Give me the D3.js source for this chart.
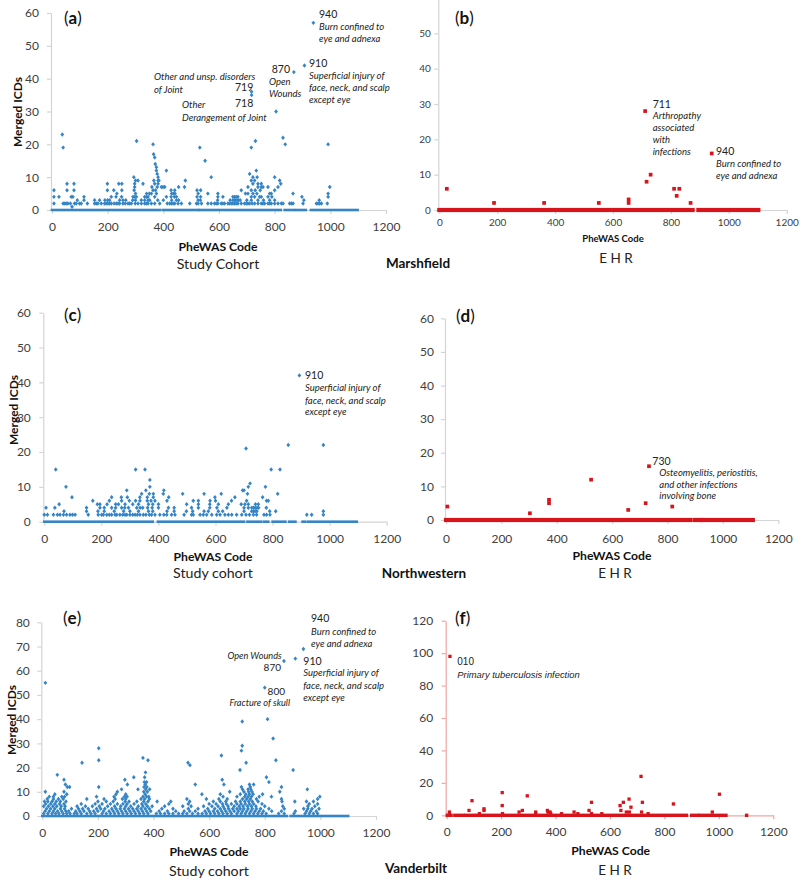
<!DOCTYPE html>
<html><head><meta charset="utf-8">
<script src="https://cdn.jsdelivr.net/npm/d3@7"></script>
<style>body{margin:0;background:#fff}svg{display:block}</style>
</head><body>
<svg id="c" width="800" height="879"></svg>
<script>
// ================= DATA =================
const xTicks = [0, 200, 400, 600, 800, 1000, 1200];
const yTicks60 = [0, 10, 20, 30, 40, 50, 60];
const yTicksB = [0, 10, 20, 30, 40, 50];
const yTicks80 = [0, 10, 20, 30, 40, 50, 60, 70, 80];
const yTicks120 = [0, 20, 40, 60, 80, 100, 120];

// Study cohort rows: [merged ICDs value, PheWAS codes having that value]
const studyA = [
 [1,[72]],
 [2,[7,40,46,51,57,66,81,87,99,105,127,153,159,165,177,189,195,201,207,213,223,231,237,243,255,263,273,279,285,299,309,321,333,339,345,357,369,387,414,423,429,435,441,453,465,495,519,525,537,560,572,584,590,596,608,614,620,632,638,644,650,656,662,668,680,692,698,704,710,719,728,740,752,758,764,776,782,788,800,812,824,830,854,860,866,902,950,956,962,968,989]],
 [3,[91,115,153,171,190,200,207,243,255,265,290,300,321,333,345,351,380,400,430,447,455,525,533,595,640,650,655,660,665,670,676,700,716,740,760,782,800,905,960]],
 [4,[7,25,69,75,115,213,230,250,291,297,303,333,339,345,369,411,428,440,447,521,534,596,614,650,656,662,668,716,728,746,752,776,790,898,992]],
 [5,[233,300,340,350,357,375,430,436,442,525,560,596,695,704,722,736,782,788,866,992]],
 [6,[7,54,79,199,222,251,295,363,372,428,441,521,534,680,716,730,748,800]],
 [7,[297,359,378,393,399,405,455,476,704,740,752,758,776,812,998]],
 [8,[54,79,199,240,251,297,327,369,381,722,740,752,822]],
 [9,[300,309,366,381,384,479,716,728,818]],
 [10,[294,381,572,722,737,800]],
 [11,[378,710]],[12,[375,411,734]],[13,[375]],[14,[371]],[15,[550]],[16,[369]],[17,[365]],
 [19,[40,531,716]],[20,[363,838,992]],[21,[304,731]],[22,[830]],[23,[37]],
 [30,[805]],[35,[717]],[36,[717]],[42,[869]],[44,[907]],[57,[939]]
];
const zeroA = [[0,388],[398,525],[530,822],[836,872],[880,912],[930,1098]];

const studyC = [
 [2,[0,11,32,46,55,67,78,90,99,108,154,189,201,207,219,228,236,248,254,265,275,283,289,300,310,318,326,335,347,356,368,376,388,405,419,429,446,458,490,516,522,546,557,569,587,604,616,633,645,657,674,692,707,719,733,744,770,779,791,920,937,978]],
 [3,[69,148,188,210,245,278,300,330,365,380,430,455,498,520,560,575,610,625,700,727,733,739,745,790,811,978]],
 [4,[6,37,148,195,210,236,250,271,282,295,324,336,345,362,378,400,435,455,516,540,580,605,640,700,715,727,733,739,745,751,778]],
 [5,[52,186,195,220,250,260,283,310,330,365,380,400,499,540,580,610,645,690,703,715,740,750]],
 [6,[170,228,271,298,320,335,361,374,388,430,522,540,581,600,656,709,779,785]],
 [7,[97,236,270,291,335,361,382,436,598,668,765]],
 [8,[341,368,382,417,485,560,620,712,818]],
 [9,[289,356,419,695,700]],
 [10,[76,370,715,775]],
 [11,[721]],[12,[370]],[15,[40,320,353,795,826]],[21,[707]],[22,[855,978]],[42,[894]]
];
const zeroC = [[0,380],[398,700],[712,760],[770,785],[800,845],[858,880],[905,915],[925,1095]];

const studyE = [
 [1,[5,20,35,48,60,75,88,100,115,125,140,160,175,190,215,230,245,260,275,290,305,320,335,350,365,380,410,425,440,455,470,490,505,520,540,560,575,590,605,620,635,650,665,680,700,715,730,745,760,775,790,805,850,870,905,945,960,975,990]],
 [2,[10,25,40,55,70,85,95,120,135,150,170,185,200,220,240,255,270,285,300,315,330,345,360,375,390,420,450,480,510,530,550,585,600,615,630,645,660,675,690,705,720,735,750,765,780,795,825,860,910,950,965,985]],
 [3,[15,30,45,65,80,105,130,145,165,195,210,225,250,265,280,295,310,325,340,355,370,385,430,470,525,560,595,620,640,655,670,685,700,712,725,740,755,770,785,815,870,940,955,970,995]],
 [4,[5,22,38,52,68,82,125,155,180,205,235,260,282,300,318,345,362,378,395,440,505,535,580,610,632,650,668,690,708,722,738,752,768,800,865,955,980]],
 [5,[12,30,45,62,78,140,190,215,245,270,290,305,330,358,372,455,525,600,625,648,662,680,700,715,730,745,760,790,960,990]],
 [6,[8,20,35,50,65,85,200,230,255,298,312,340,365,380,413,462,530,615,640,660,695,712,728,742,755,776,862,908,950,975]],
 [7,[18,40,58,75,160,222,262,288,300,355,368,385,520,590,635,665,720,735,748,770,860,990]],
 [8,[25,40,70,80,195,258,295,305,362,375,383,650,700,728,740,752,780,824,998]],
 [9,[45,88,265,300,370,574,640,712,732,745,758,792]],
 [10,[11,78,270,365,378,674,725,742,754,854]],
 [11,[285,344,372,386,720,740,750,953]],
 [12,[90,98,203,366,376,716,748,860]],
 [13,[83,306,370,550,653,745,760]],
 [14,[367,375,815]],[15,[78,297,647]],[16,[329,368,806]],
 [17,[54]],[18,[371]],[19,[711,902]],[21,[531]],[22,[143,524,733]],[23,[203,380,840]],[24,[362]],[25,[644]],
 [27,[716]],[28,[203]],[29,[719]],[32,[830]],[39,[719]],[40,[810]],[53,[800]],[55,[11]],[64,[869]],[65,[910]],[69,[939]]
];
const zeroE = [[0,462],[470,880],[893,932],[940,1100]];

// EHR points: [PheWAS code, merged ICDs]
const ehrB = [[26,6],[189,2],[362,2],[551,2],[654,3],[654,2],[711,28],[716,8],[730,10],[811,6],[829,6],[820,4],[868,2],[941,16]];
const zeroB = [[0,875],[895,915],[927,1102]];

const ehrD = [[5,4],[303,2],[372,6],[372,5],[524,12],[658,3],[721,5],[733,16],[817,4]];
const zeroD = [[0,881],[897,918],[927,1108]];

const ehrF = [[12,98],[10,2],[10,1],[82,3],[93,9],[120,1],[137,4],[137,3],[204,14],[204,6],[205,1],[266,2],[278,3],[296,12],
 [327,2],[327,1],[370,3],[372,2],[380,2],[382,1],[422,1],[468,2],[482,1],[523,3],[532,8],[532,1],[570,1],[637,6],[640,3],
 [649,8],[660,2],[670,10],[671,2],[677,5],[714,24],[719,8],[716,2],[740,1],[833,7],[976,2],[1002,13]];
const zeroF = [[2,16],[30,61],[71,100],[110,881],[900,922],[930,1026],[1102,1102]];

// ================= LAYOUT =================
const BLUE = "#3585c6", RED = "#d7141c";
const FONT = 'Lato, "DejaVu Sans", sans-serif';
const svg = d3.select("#c");
svg.append("rect").attr("width", 800).attr("height", 879).attr("fill", "#fff");

const panels = [
 {rows: studyA, zero: zeroA, kind: "study", x0: 52, x1: 386, yb: 210, yt: 13, ymax: 60, yticks: yTicks60, tf: 12, xpad: 8.5, ypad: 8, axis: "#d4d4d4"},
 {pts: ehrB, zero: zeroB, kind: "ehr", x0: 439.3, x1: 786.7, yb: 210, yt: -2, ymax: 60, yticks: yTicksB, tf: 10, xpad: 5, ypad: 3.5, axis: "#d4d4d4", ms: 3.7, bh: 4.2},
 {rows: studyC, zero: zeroC, kind: "study", x0: 44.3, x1: 386.7, yb: 521.7, yt: 312.7, ymax: 60, yticks: yTicks60, tf: 12, xpad: 8.5, ypad: 8.5, axis: "#d4d4d4"},
 {pts: ehrD, zero: zeroD, kind: "ehr", x0: 446, x1: 778.3, yb: 520, yt: 318.3, ymax: 60, yticks: yTicks60, tf: 12, xpad: 10.5, ypad: 7, axis: "#d4d4d4", ms: 3.7, bh: 4.2},
 {rows: studyE, zero: zeroE, kind: "study", x0: 42.3, x1: 376, yb: 816, yt: 622.3, ymax: 80, yticks: yTicks80, tf: 12, xpad: 8, ypad: 7.5, axis: "#d4d4d4"},
 {pts: ehrF, zero: zeroF, kind: "ehr", x0: 446.7, x1: 773.3, yb: 815.3, yt: 620.7, ymax: 120, yticks: yTicks120, tf: 12, xpad: 8.5, ypad: 8.5, axis: "#f2a3a3", ms: 3.3, bh: 3.4}
];

function drawPanel(p) {
  const x = d3.scaleLinear().domain([0, 1200]).range([p.x0, p.x1]);
  const y = d3.scaleLinear().domain([0, p.ymax]).range([p.yb, p.yt]);
  const g = svg.append("g");
  const ax = g.append("g").attr("transform", `translate(0,${p.yb})`)
    .call(d3.axisBottom(x).tickValues(xTicks).tickSize(4).tickSizeOuter(0).tickPadding(p.xpad).tickFormat(d3.format("d")));
  const ay = g.append("g").attr("transform", `translate(${p.x0 - 1},0)`)
    .call(d3.axisLeft(y).tickValues(p.yticks).tickSize(4).tickSizeOuter(0).tickPadding(p.ypad).tickFormat(d3.format("d")));
  [ax, ay].forEach(a => {
    a.select(".domain").attr("stroke", p.axis).attr("stroke-width", 1.2);
    a.selectAll(".tick line").attr("stroke", p.axis).attr("stroke-width", 1.2);
    a.selectAll(".tick text").attr("fill", "#404040").style("font-family", FONT).style("font-size", p.tf + "px");
  });
  const col = p.kind === "study" ? BLUE : RED;
  const bh = p.kind === "study" ? 2.6 : p.bh;
  // dense zero-value baseline (codes with 0 merged ICDs)
  g.append("g").selectAll("rect").data(p.zero).join("rect")
    .attr("x", d => x(d[0]) - bh / 2).attr("width", d => x(d[1]) - x(d[0]) + bh)
    .attr("y", y(0) - bh / 2).attr("height", bh).attr("fill", col);
  if (p.kind === "study") {
    const pts = p.rows.flatMap(([v, codes]) => codes.map(c => [c, v]));
    g.append("g").selectAll("path").data(pts).join("path")
      .attr("d", "M0,-2.2L1.9,0L0,2.2L-1.9,0Z")
      .attr("transform", d => `translate(${x(d[0])},${y(d[1])})`)
      .attr("fill", col);
  } else {
    g.append("g").selectAll("rect").data(p.pts).join("rect")
      .attr("x", d => x(d[0]) - p.ms / 2).attr("y", d => y(d[1]) - p.ms / 2)
      .attr("width", p.ms).attr("height", p.ms).attr("fill", col);
  }
}
panels.forEach(drawPanel);

function txt(t, x, y, o = {}) {
  const e = svg.append("text").attr("x", x).attr("y", y).attr("dominant-baseline", "central")
    .attr("text-anchor", o.anchor || "start").attr("fill", o.fill || "#222")
    .style("font-family", o.family || FONT).style("font-size", (o.size || 10) + "px")
    .style("font-weight", o.bold ? "bold" : "normal").style("font-style", o.it ? "italic" : "normal");
  if (o.rot) e.attr("transform", `rotate(-90,${x},${y})`);
  e.text(t);
  return e;
}

// panel letters
[["a", 64, 17], ["b", 455, 17], ["c", 64, 314], ["d", 456, 315], ["e", 63, 617], ["f", 455, 617]].forEach(([l, x, y]) => {
  const e = svg.append("text").attr("x", x).attr("y", y).attr("dominant-baseline", "central")
    .style("font-family", FONT).style("font-size", "17px").attr("fill", "#111");
  e.append("tspan").text("(");
  e.append("tspan").style("font-weight", "bold").text(l);
  e.append("tspan").text(")");
});

// axis titles
const xt = [[218, 246, 12.2], [613, 238, 9.5], [213, 556.7, 12.2], [612, 555.7, 12.2], [209, 851.7, 12.2], [610.7, 850.7, 12.2]];
xt.forEach(([x, y, s]) => txt("PheWAS Code", x, y, {anchor: "middle", bold: true, size: s, fill: "#111"}));
[[17, 112], [13, 410], [11.5, 720]].forEach(([x, y]) => txt("Merged ICDs", x, y, {anchor: "middle", bold: true, size: 12, rot: true, fill: "#111"}));
txt("Study Cohort", 218, 263, {anchor: "middle", size: 14.2, fill: "#222"});
txt("Study cohort", 213, 572.7, {anchor: "middle", size: 14.2, fill: "#222"});
txt("Study cohort", 209, 870, {anchor: "middle", size: 14.2, fill: "#222"});
txt("E H R", 616, 258, {anchor: "middle", size: 13.5, fill: "#222"});
txt("E H R", 615, 573, {anchor: "middle", size: 13.5, fill: "#222"});
txt("E H R", 615, 870, {anchor: "middle", size: 13.5, fill: "#222"});
txt("Marshfield", 418, 263, {anchor: "middle", bold: true, size: 13.5, fill: "#111"});
txt("Northwestern", 424, 573, {anchor: "middle", bold: true, size: 13.5, fill: "#111"});
txt("Vanderbilt", 416, 868, {anchor: "middle", bold: true, size: 13.5, fill: "#111"});

// annotations
const N = {size: 10.5}, I = {size: 9.5, it: true};
const ann = [
 ["940", 319, 14, N], ["Burn confined to", 319, 26, I], ["eye and adnexa", 319, 38, I],
 ["910", 309, 62.5, N], ["Superficial injury of", 309, 75, I], ["face, neck, and scalp", 309, 87, I], ["except eye", 309, 99, I],
 ["870", 290, 69, {size: 10.5, anchor: "end"}], ["Open", 269, 81, I], ["Wounds", 269, 93, I],
 ["Other and unsp. disorders", 154, 76, I], ["of Joint", 154, 89, I], ["719", 235, 87, N],
 ["Other", 182, 104, I], ["Derangement of Joint", 182, 117, I], ["718", 235, 103, N],
 ["711", 652.7, 104, N], ["Arthropathy", 652.7, 115.5, I], ["associated", 652.7, 127.5, I], ["with", 652.7, 139.5, I], ["infections", 652.7, 151.5, I],
 ["940", 716, 151, N], ["Burn confined to", 716, 163, I], ["eye and adnexa", 716, 175, I],
 ["910", 305, 375, N], ["Superficial injury of", 305, 387.7, I], ["face, neck, and scalp", 305, 400, I], ["except eye", 305, 411.7, I],
 ["730", 652.3, 461, N], ["Osteomyelitis, periostitis,", 659.3, 472.7, I], ["and other  infections", 659.3, 484, I], ["involving bone", 659.3, 495.5, I],
 ["940", 311, 618.3, N], ["Burn confined to", 311, 631.7, I], ["eye and adnexa", 311, 643.3, I],
 ["Open Wounds", 281.7, 655.8, {size: 9.2, it: true, anchor: "end"}], ["870", 281, 667.2, {size: 10, anchor: "end"}],
 ["910", 303.3, 660.7, N], ["Superficial injury of", 303.3, 672.7, I], ["face, neck, and scalp", 303.3, 685.3, I], ["except eye", 303.3, 697.3, I],
 ["800", 285, 691.2, {size: 10, anchor: "end"}], ["Fracture of skull", 290, 702.8, {size: 9.2, it: true, anchor: "end"}],
 ["010", 457.3, 661, {size: 10, family: '"Liberation Sans", Arial, sans-serif'}],
 ["Primary tuberculosis infection", 457.3, 674, {size: 9.4, it: true, family: '"Liberation Sans", Arial, sans-serif'}]
];
ann.forEach(([t, x, y, o]) => txt(t, x, y, o));
</script>
</body></html>
